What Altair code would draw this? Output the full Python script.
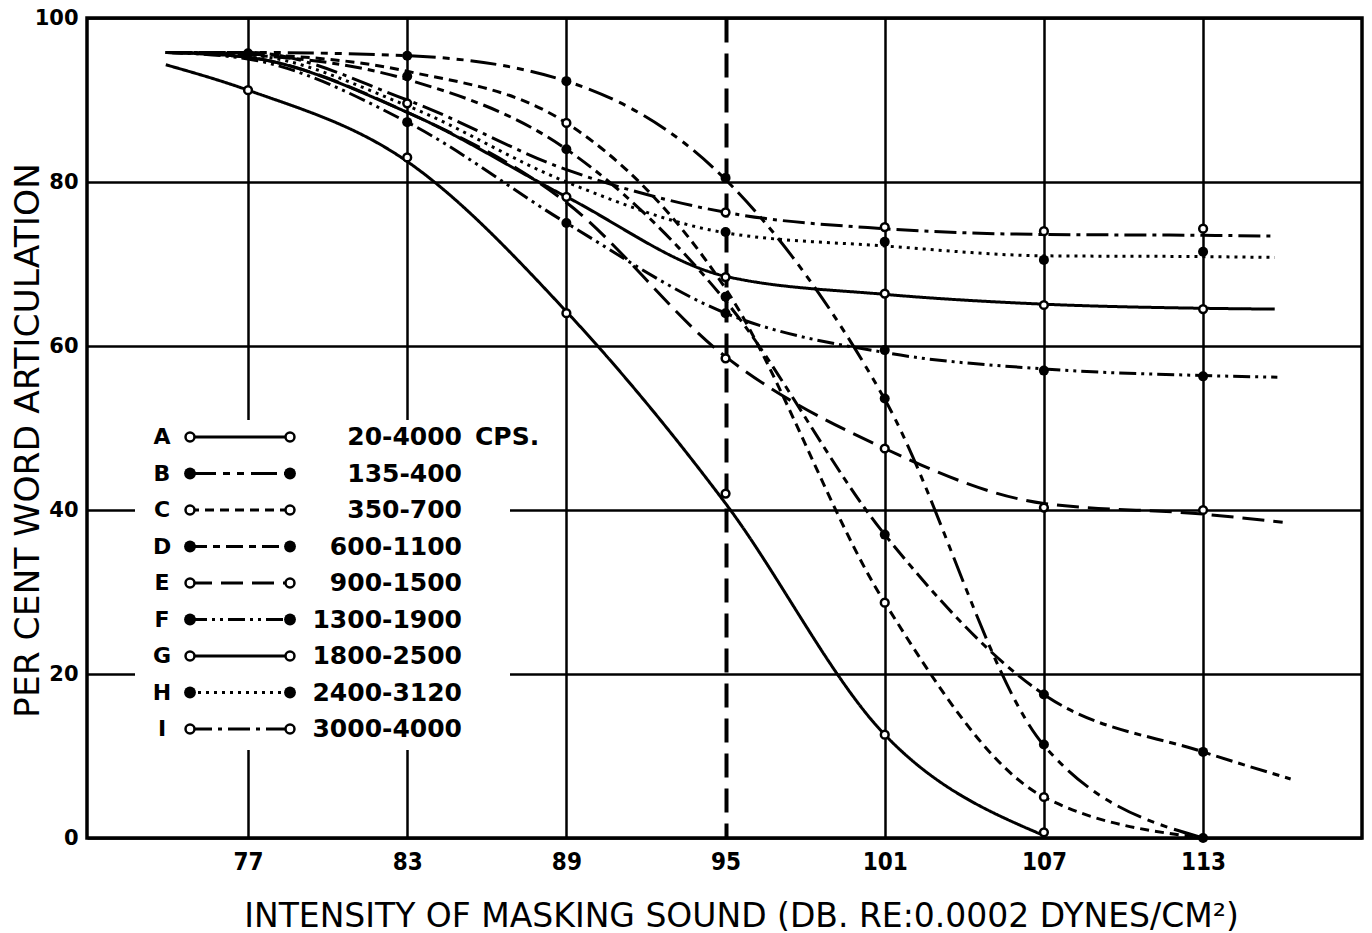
import altair as alt
import pandas as pd

# ---------------- data ----------------
series = ["A", "B", "C", "D", "E", "F", "G", "H", "I"]
band_labels = ["20-4000", "135-400", "350-700", "600-1100", "900-1500",
               "1300-1900", "1800-2500", "2400-3120", "3000-4000"]
filled_marker = [False, True, False, True, False, True, False, True, False]

db_ticks = [77, 83, 89, 95, 101, 107, 113]
pct_ticks = [0, 20, 40, 60, 80, 100]

# drawn (smoothed) curves: knots
curve_db_A = [73.9, 77, 83, 89, 95, 101, 107]
curve_pct_A = [94.3, 91.2, 82.5, 64.2, 40.8, 12.6, 0.3]
curve_db_B = [73.9, 77, 83, 89, 95, 101, 107, 113]
curve_pct_B = [95.8, 95.8, 95.4, 92.3, 80.3, 53.5, 11.3, 0.0]
curve_db_C = [73.9, 77, 83, 89, 95, 101, 107, 113]
curve_pct_C = [95.8, 95.6, 93.5, 87.2, 67.0, 28.7, 5.0, 0.0]
curve_db_D = [73.9, 77, 83, 89, 95, 101, 107, 113, 116.3]
curve_pct_D = [95.8, 95.5, 92.5, 84.0, 65.5, 37.0, 17.5, 10.5, 7.2]
curve_db_E = [73.9, 77, 83, 89, 95, 101, 107, 113, 116.0]
curve_pct_E = [95.8, 95.2, 88.5, 77.5, 58.7, 47.5, 40.8, 39.5, 38.5]
curve_db_F = [73.9, 77, 83, 89, 95, 101, 107, 113, 115.8]
curve_pct_F = [95.8, 95.0, 87.3, 75.0, 64.0, 59.2, 57.2, 56.4, 56.2]
curve_db_G = [73.9, 77, 83, 89, 95, 101, 107, 113, 115.7]
curve_pct_G = [95.8, 95.2, 88.5, 78.2, 68.5, 66.3, 65.1, 64.6, 64.5]
curve_db_H = [73.9, 77, 83, 89, 95, 101, 107, 113, 115.7]
curve_pct_H = [95.8, 95.5, 89.3, 80.0, 73.8, 72.2, 71.0, 70.9, 70.8]
curve_db_I = [73.9, 77, 83, 89, 95, 101, 107, 113, 115.7]
curve_pct_I = [95.8, 95.8, 90.0, 81.5, 76.3, 74.3, 73.6, 73.5, 73.4]

# measured points at 77, 83, 89, 95, 101, 107, 113 dB (None = no symbol)
points_A = [91.2, 83.0, 64.0, 42.0, 12.6, 0.7, None]
points_B = [95.7, 95.4, 92.3, 80.5, 53.6, 11.4, 0.0]
points_C = [None, None, 87.2, None, 28.7, 5.0, None]
points_D = [None, 92.9, 84.0, 66.0, 37.0, 17.5, 10.5]
points_E = [None, None, None, 58.5, 47.5, 40.3, 40.0]
points_F = [None, 87.3, 75.0, 64.0, 59.5, 57.0, 56.3]
points_G = [None, None, 78.2, 68.4, 66.4, 65.0, 64.5]
points_H = [None, None, None, 73.9, 72.7, 70.5, 71.5]
points_I = [None, 89.6, None, 76.3, 74.5, 74.0, 74.3]

curves = {
    "A": (curve_db_A, curve_pct_A), "B": (curve_db_B, curve_pct_B),
    "C": (curve_db_C, curve_pct_C), "D": (curve_db_D, curve_pct_D),
    "E": (curve_db_E, curve_pct_E), "F": (curve_db_F, curve_pct_F),
    "G": (curve_db_G, curve_pct_G), "H": (curve_db_H, curve_pct_H),
    "I": (curve_db_I, curve_pct_I),
}
points = {
    "A": points_A, "B": points_B, "C": points_C, "D": points_D, "E": points_E,
    "F": points_F, "G": points_G, "H": points_H, "I": points_I,
}

# ---------------- tables ----------------
curve_rows = []
for s in series:
    xs, ys = curves[s]
    for i, (x, y) in enumerate(zip(xs, ys)):
        curve_rows.append({"series": s, "order": i, "db": x, "pct": y})
curve_df = pd.DataFrame(curve_rows)

point_rows = []
for s, f in zip(series, filled_marker):
    for x, y in zip(db_ticks, points[s]):
        if y is not None:
            point_rows.append({"series": s, "db": x, "pct": y, "filled": f})
point_df = pd.DataFrame(point_rows)

legend_df = pd.DataFrame({
    "series": series,
    "label": band_labels,
    "filled": filled_marker,
    "row": list(range(len(series))),
})

# ---------------- styles ----------------
dash_styles = [
    [1, 0],                  # A solid
    [26, 7, 7, 7, 7, 7],     # B long dash - short - short
    [9, 6],                  # C short dashes
    [17, 6, 7, 6],           # D long-short
    [22, 9],                 # E long dashes
    [17, 5, 3, 5, 3, 5],     # F dash-dot-dot
    [1, 0],                  # G solid
    [3, 5],                  # H dotted
    [22, 6, 4, 6],           # I dash-dot
]
dash_enc = alt.StrokeDash("series:N",
                          scale=alt.Scale(domain=series, range=dash_styles),
                          legend=None)

label_font = "DejaVu Sans"
cond95 = "datum.value === 95"

x_enc = alt.X(
    "db:Q",
    scale=alt.Scale(domain=[70.93, 118.99], nice=False, zero=False),
    axis=alt.Axis(
        values=db_ticks, grid=True, gridColor="black", gridOpacity=1,
        gridWidth={"condition": {"test": cond95, "value": 4}, "value": 2.5},
        gridDash={"condition": {"test": cond95, "value": [24, 11]}, "value": []},
        ticks=False, domain=False,
        labelFont="DejaVu Sans Condensed, Liberation Sans Narrow, DejaVu Sans",
        labelFontSize=24, labelFontWeight="bold", labelColor="black",
        labelPadding=12,
        title="INTENSITY OF MASKING SOUND (DB. RE:0.0002 DYNES/CM²)",
        titleFont=label_font, titleFontSize=33, titleFontWeight="normal",
        titleColor="black", titleX=654, titleY=78, titleAlign="center",
        titleBaseline="middle", titleAnchor="start",
    ),
)
y_enc = alt.Y(
    "pct:Q",
    scale=alt.Scale(domain=[0, 100], nice=False),
    axis=alt.Axis(
        values=pct_ticks, grid=True, gridColor="black", gridOpacity=1,
        gridWidth=2.5, ticks=False, domain=False,
        labelFont=label_font, labelFontSize=21, labelFontWeight="bold",
        labelColor="black", labelPadding=9,
        title="PER CENT WORD ARTICULATION",
        titleFont=label_font, titleFontSize=34.5, titleFontWeight="normal",
        titleColor="black", titleX=-59, titleY=422, titleAngle=270,
        titleAlign="center", titleBaseline="middle", titleAnchor="start",
    ),
)

lines = alt.Chart(curve_df).mark_line(
    interpolate="monotone", strokeWidth=3, color="black"
).encode(x=x_enc, y=y_enc, strokeDash=dash_enc, order="order:Q")

pts_filled = alt.Chart(point_df).transform_filter("datum.filled").mark_point(
    shape="circle", filled=True, color="black", size=100, opacity=1
).encode(x=x_enc, y=y_enc)

pts_open = alt.Chart(point_df).transform_filter("!datum.filled").mark_point(
    shape="circle", filled=True, fill="white", stroke="black",
    strokeWidth=2.5, size=60, opacity=1
).encode(x=x_enc, y=y_enc)

main = alt.layer(lines, pts_filled, pts_open)

# ---------------- legend (drawn inside the plot) ----------------
row_y = alt.Y("row:O", scale=alt.Scale(type="point", range=[419, 711], padding=0),
              axis=None)

leg_box = alt.Chart(pd.DataFrame({"k": [0]})).mark_rect(
    color="white", opacity=1
).encode(x=alt.value(48), x2=alt.value(423), y=alt.value(402), y2=alt.value(732))

leg_lines = alt.Chart(legend_df).mark_rule(strokeWidth=3, color="black").encode(
    x=alt.value(103), x2=alt.value(203), y=row_y, strokeDash=dash_enc)

def leg_circles(xpix):
    f = alt.Chart(legend_df).transform_filter("datum.filled").mark_point(
        shape="circle", filled=True, color="black", size=140, opacity=1
    ).encode(x=alt.value(xpix), y=row_y)
    o = alt.Chart(legend_df).transform_filter("!datum.filled").mark_point(
        shape="circle", filled=True, fill="white", stroke="black",
        strokeWidth=2.5, size=80, opacity=1
    ).encode(x=alt.value(xpix), y=row_y)
    return [f, o]

leg_letters = alt.Chart(legend_df).mark_text(
    font=label_font, fontSize=22, fontWeight="bold", color="black",
    align="center", baseline="middle"
).encode(x=alt.value(75), y=row_y, text="series:N")

leg_labels = alt.Chart(legend_df).mark_text(
    font=label_font, fontSize=25, fontWeight="bold", color="black",
    align="right", baseline="middle"
).encode(x=alt.value(375), y=row_y, text="label:N")

leg_cps = alt.Chart(legend_df).transform_filter("datum.row == 0").mark_text(
    font=label_font, fontSize=25, fontWeight="bold", color="black",
    align="left", baseline="middle"
).encode(x=alt.value(388), y=row_y, text=alt.value("CPS."))

legend = alt.layer(leg_box, leg_lines, *leg_circles(103), *leg_circles(203),
                   leg_letters, leg_labels, leg_cps)

chart = alt.layer(main, legend).resolve_scale(y="independent").properties(
    width=1275, height=820,
    padding={"left": 87, "top": 18, "right": 10, "bottom": 95},
    autosize=alt.AutoSizeParams(type="none"),
    background="white",
).configure_view(stroke="black", strokeWidth=3.5)

chart.save("out.html", embed_options={"renderer": "svg", "actions": False})
